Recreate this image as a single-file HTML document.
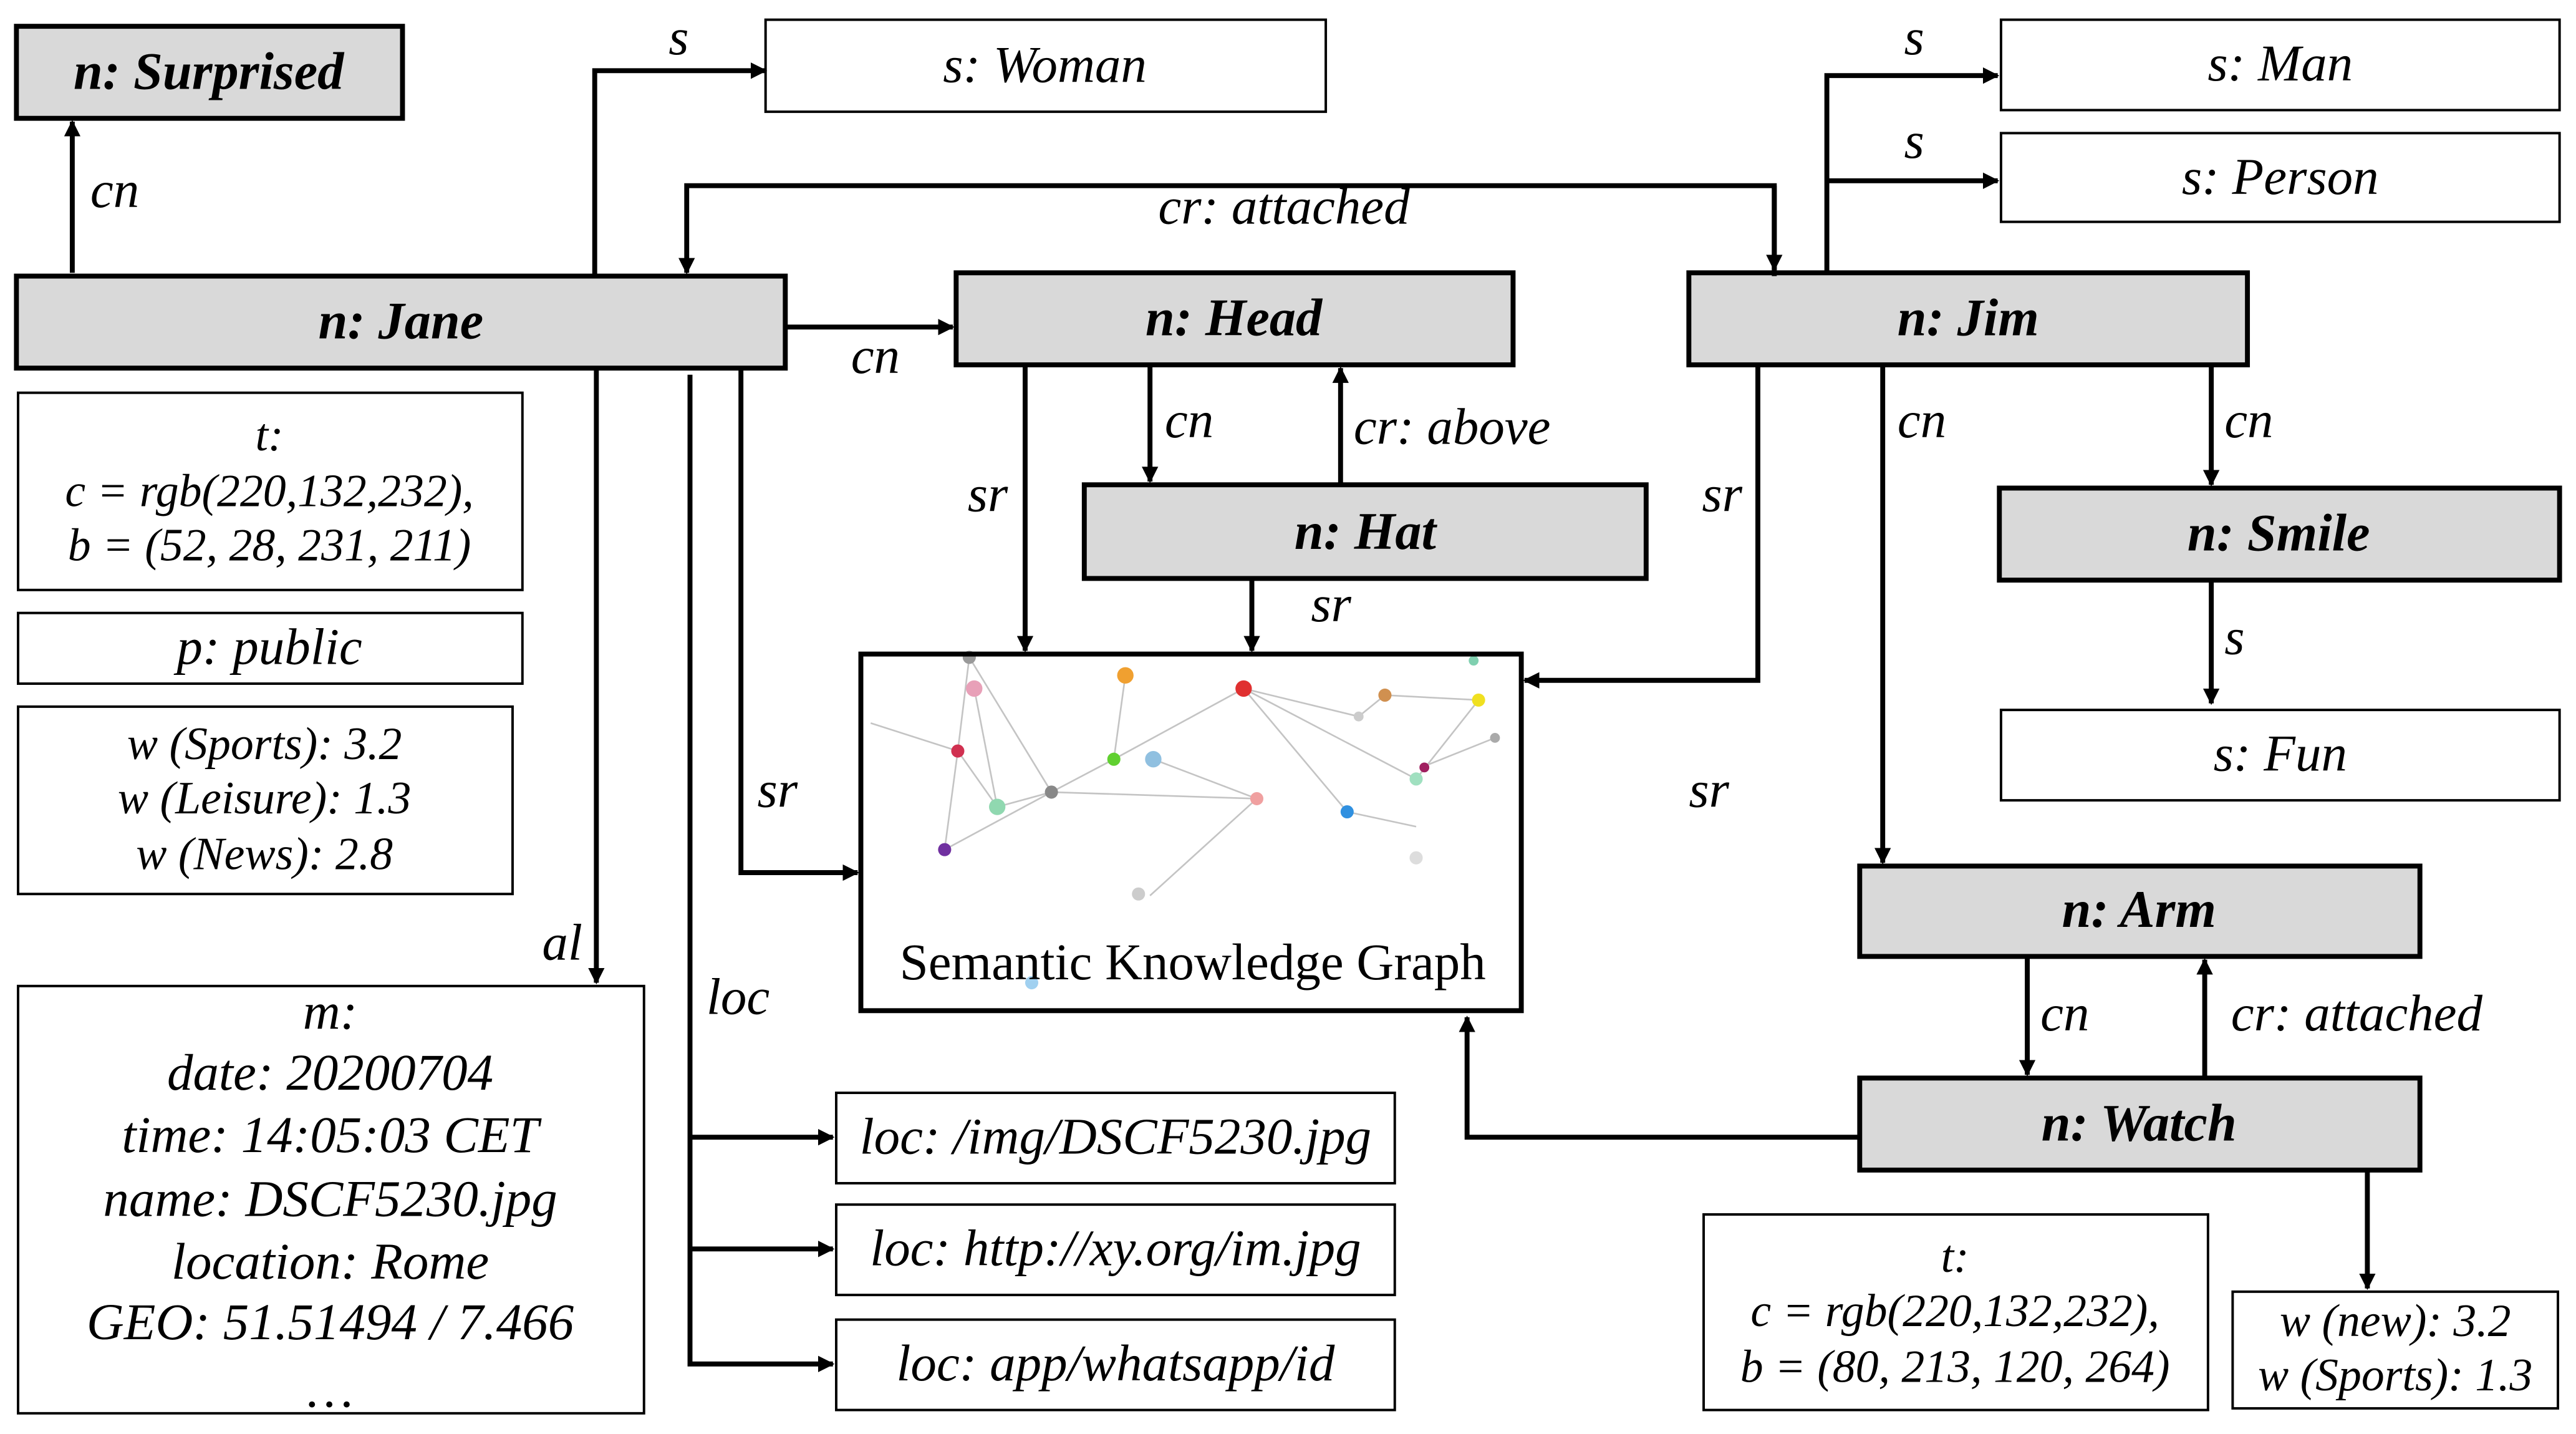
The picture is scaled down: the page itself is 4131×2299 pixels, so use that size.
<!DOCTYPE html>
<html><head><meta charset="utf-8"><style>
html,body{margin:0;padding:0;background:#fff;}
svg{display:block;}
text{font-family:"Liberation Serif",serif;font-style:italic;fill:#000;}
.n{font-weight:bold;font-size:32px;}
.b{font-size:31.5px;}
.e{font-size:31.5px;}
.s{font-size:28px;}
</style></head><body>
<svg width="4131" height="2299" viewBox="0 0 1568 872.6" preserveAspectRatio="none" xmlns="http://www.w3.org/2000/svg">
<defs><marker id="a" markerWidth="10" markerHeight="10" refX="9" refY="5" orient="auto" markerUnits="userSpaceOnUse"><path d="M0,0 L10,5 L0,10 z" fill="#000"/></marker></defs>
<rect width="1568" height="872.6" fill="#fff"/>
<g fill="#d9d9d9" stroke="#000" stroke-width="3">
<rect x="10" y="16" width="235" height="56"/>
<rect x="10" y="168" width="468" height="56"/>
<rect x="582" y="166" width="339" height="56"/>
<rect x="1028" y="166" width="340" height="56"/>
<rect x="660" y="295" width="342" height="57"/>
<rect x="1217" y="297" width="341" height="56"/>
<rect x="1132" y="527" width="341" height="55"/>
<rect x="1132" y="656" width="341" height="56"/>
</g>
<g fill="#fff" stroke="#000" stroke-width="1.5">
<rect x="466" y="12" width="341" height="56"/>
<rect x="1218" y="12" width="340" height="55"/>
<rect x="1218" y="81" width="340" height="54"/>
<rect x="1218" y="432" width="340" height="55"/>
<rect x="11" y="239" width="307" height="120"/>
<rect x="11" y="373" width="307" height="43"/>
<rect x="11" y="430" width="301" height="114"/>
<rect x="11" y="600" width="381" height="260"/>
<rect x="509" y="665" width="340" height="55"/>
<rect x="509" y="733" width="340" height="55"/>
<rect x="509" y="803" width="340" height="55"/>
<rect x="1037" y="739" width="307" height="119"/>
<rect x="1359" y="786" width="198" height="71"/>
</g>
<!-- KG -->
<g stroke="#c4c4c4" stroke-width="1" fill="none">
<path d="M590,400 L640,482 L575,517 M640,482 L678,462 L757,419 L820,494 M757,419 L862,474 L900,426 M702,462 L765,486 M583,457 L607,491 L640,482 M685,411 L678,462 M593,419 L607,491 M827,436 L843,423 L900,426 M865,467 L910,449 M530,440 L583,457 M700,545 L765,486 M862,503 L820,494 M575,517 L583,457 L590,400 M757,419 L827,436 M640,482 L765,486"/>
</g>
<g>
<circle cx="590" cy="400" r="4" fill="#999"/><circle cx="593" cy="419" r="5" fill="#e8a0b8"/>
<circle cx="685" cy="411" r="5" fill="#f0a030"/><circle cx="757" cy="419" r="5" fill="#e03030"/>
<circle cx="583" cy="457" r="4" fill="#d03050"/><circle cx="678" cy="462" r="4" fill="#60d030"/>
<circle cx="702" cy="462" r="5" fill="#90c0e0"/><circle cx="640" cy="482" r="4" fill="#888"/>
<circle cx="607" cy="491" r="5" fill="#90d8b0"/><circle cx="575" cy="517" r="4" fill="#7030a0"/>
<circle cx="765" cy="486" r="4" fill="#f0a0a0"/><circle cx="820" cy="494" r="4" fill="#3090e0"/>
<circle cx="843" cy="423" r="4" fill="#d09050"/><circle cx="900" cy="426" r="4" fill="#f0e020"/>
<circle cx="867" cy="467" r="3" fill="#a02060"/><circle cx="862" cy="474" r="4" fill="#a0e0c0"/>
<circle cx="910" cy="449" r="3" fill="#aaa"/><circle cx="897" cy="402" r="3" fill="#80d0b0"/>
<circle cx="827" cy="436" r="3" fill="#ccc"/><circle cx="693" cy="544" r="4" fill="#ccc"/>
<circle cx="862" cy="522" r="4" fill="#ddd"/><circle cx="628" cy="598" r="4" fill="#a0d0f0"/>
</g>
<rect x="524" y="398" width="402" height="217" fill="none" stroke="#000" stroke-width="3"/>
<text x="726" y="596" text-anchor="middle" style="font-style:normal;font-size:31.5px">Semantic Knowledge Graph</text>
<!-- connectors -->
<g stroke="#000" stroke-width="3" fill="none">
<path d="M44,166 V74" marker-end="url(#a)"/>
<path d="M362,168 V43 H466" marker-end="url(#a)"/>
<path d="M1080,168 V113 H418 V166" marker-end="url(#a)"/>
<path d="M1080,113 V164" marker-end="url(#a)"/>
<path d="M478,199 H580" marker-end="url(#a)"/>
<path d="M1112,166 V46 H1216" marker-end="url(#a)"/>
<path d="M1112,110 H1216" marker-end="url(#a)"/>
<path d="M363,224 V598" marker-end="url(#a)"/>
<path d="M451,224 V531 H522" marker-end="url(#a)"/>
<path d="M420,228 V830 H507" marker-end="url(#a)"/>
<path d="M420,692 H507" marker-end="url(#a)"/>
<path d="M420,760 H507" marker-end="url(#a)"/>
<path d="M624,222 V396" marker-end="url(#a)"/>
<path d="M700,222 V293" marker-end="url(#a)"/>
<path d="M816,295 V224" marker-end="url(#a)"/>
<path d="M762,352 V396" marker-end="url(#a)"/>
<path d="M1070,222 V414 H928" marker-end="url(#a)"/>
<path d="M1146,222 V525" marker-end="url(#a)"/>
<path d="M1346,222 V295" marker-end="url(#a)"/>
<path d="M1346,353 V428" marker-end="url(#a)"/>
<path d="M1234,582 V654" marker-end="url(#a)"/>
<path d="M1342,656 V584" marker-end="url(#a)"/>
<path d="M1132,692 H893 V619" marker-end="url(#a)"/>
<path d="M1441,712 V784" marker-end="url(#a)"/>
</g>
<!-- node labels -->
<g class="n" text-anchor="middle">
<text x="127" y="54">n: Surprised</text>
<text x="244" y="206">n: Jane</text>
<text x="751" y="204">n: Head</text>
<text x="1198" y="204">n: Jim</text>
<text x="831" y="334">n: Hat</text>
<text x="1387" y="335">n: Smile</text>
<text x="1302" y="564">n: Arm</text>
<text x="1302" y="694">n: Watch</text>
</g>
<g class="b" text-anchor="middle">
<text x="636" y="50">s: Woman</text>
<text x="1388" y="49">s: Man</text>
<text x="1388" y="118">s: Person</text>
<text x="1388" y="469">s: Fun</text>
<text x="164" y="404">p: public</text>
<text x="679" y="702">loc: /img/DSCF5230.jpg</text>
<text x="679" y="770">loc: http://xy.org/im.jpg</text>
<text x="679" y="840">loc: app/whatsapp/id</text>
<text x="201" y="626">m:</text>
<text x="201" y="663">date: 20200704</text>
<text x="201" y="701">time: 14:05:03 CET</text>
<text x="201" y="740">name: DSCF5230.jpg</text>
<text x="201" y="778">location: Rome</text>
<text x="201" y="815">GEO: 51.51494 / 7.466</text>
<text x="201" y="856">…</text>
</g>
<g class="s" text-anchor="middle">
<text x="164" y="274">t:</text>
<text x="164" y="308">c = rgb(220,132,232),</text>
<text x="164" y="341">b = (52, 28, 231, 211)</text>
<text x="161" y="462">w (Sports): 3.2</text>
<text x="161" y="495">w (Leisure): 1.3</text>
<text x="161" y="529">w (News): 2.8</text>
<text x="1190" y="774">t:</text>
<text x="1190" y="807">c = rgb(220,132,232),</text>
<text x="1190" y="841">b = (80, 213, 120, 264)</text>
<text x="1458" y="813">w (new): 3.2</text>
<text x="1458" y="846">w (Sports): 1.3</text>
</g>
<g class="e">
<text x="55" y="126">cn</text>
<text x="407" y="33">s</text>
<text x="705" y="136">cr: attached</text>
<text x="518" y="227">cn</text>
<text x="1159" y="33">s</text>
<text x="1159" y="96">s</text>
<text x="589" y="311">sr</text>
<text x="709" y="266">cn</text>
<text x="824" y="270">cr: above</text>
<text x="798" y="378">sr</text>
<text x="1036" y="311">sr</text>
<text x="1155" y="266">cn</text>
<text x="1354" y="266">cn</text>
<text x="1354" y="398">s</text>
<text x="461" y="491">sr</text>
<text x="1028" y="491">sr</text>
<text x="330" y="584">al</text>
<text x="430" y="617">loc</text>
<text x="1242" y="627">cn</text>
<text x="1358" y="627">cr: attached</text>
</g>
</svg>
</body></html>
